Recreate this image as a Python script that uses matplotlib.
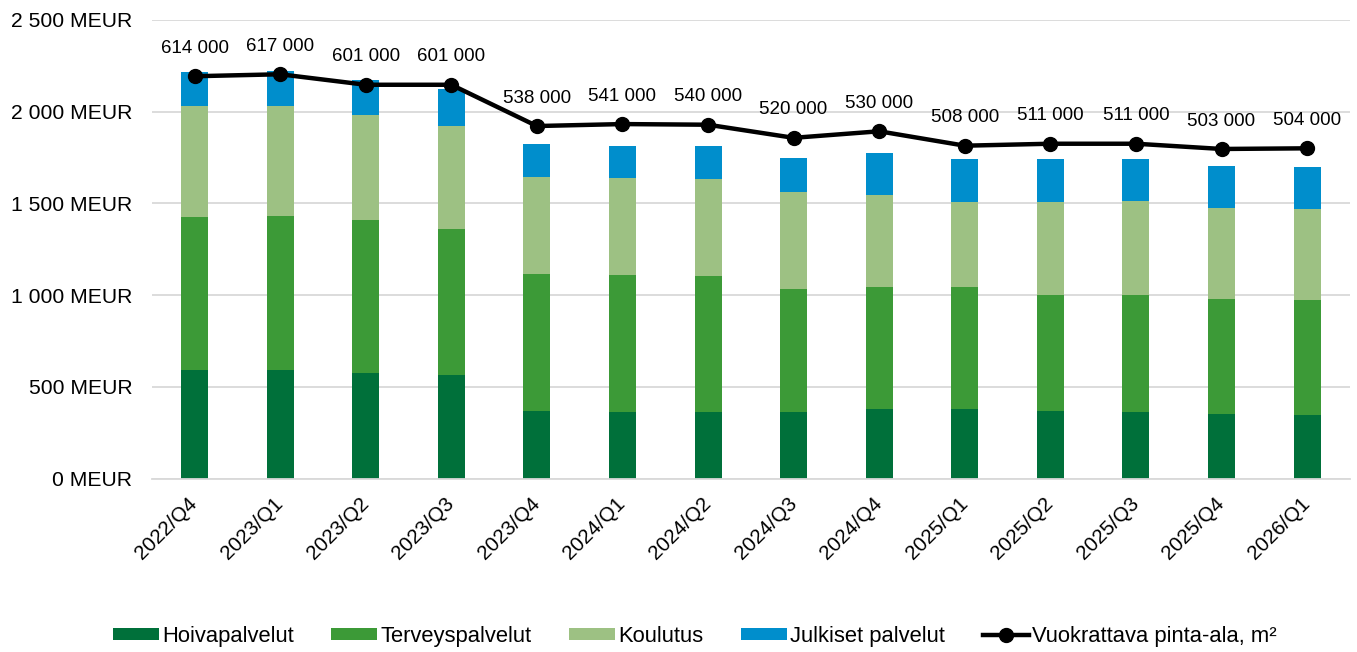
import matplotlib.pyplot as plt
from matplotlib.lines import Line2D
from matplotlib.patches import Patch
import numpy as np

plt.rcParams["font.family"] = ["Liberation Sans", "DejaVu Sans"]

# Quarters on the x-axis
quarters = [
    "2022/Q4", "2023/Q1", "2023/Q2", "2023/Q3", "2023/Q4", "2024/Q1", "2024/Q2",
    "2024/Q3", "2024/Q4", "2025/Q1", "2025/Q2", "2025/Q3", "2025/Q4", "2026/Q1",
]

# Stacked segments, MEUR
hoivapalvelut = [592, 592, 578, 567, 369, 363, 363, 363, 380, 380, 369, 363, 352, 349]
terveyspalvelut = [835, 837, 831, 793, 748, 748, 741, 671, 664, 664, 631, 637, 626, 625]
koulutus = [604, 602, 573, 562, 525, 526, 529, 526, 502, 465, 507, 513, 495, 495]
julkiset_palvelut = [184, 189, 189, 200, 181, 176, 180, 186, 230, 231, 233, 229, 231, 231]

# Leasable area, m2 (secondary scale)
pinta_ala = [614000, 617000, 601000, 601000, 538000, 541000, 540000,
             520000, 530000, 508000, 511000, 511000, 503000, 504000]

COLOURS = {
    "Hoivapalvelut": "#00703a",
    "Terveyspalvelut": "#3c9a37",
    "Koulutus": "#9dc183",
    "Julkiset palvelut": "#008ecc",
}

fig = plt.figure(figsize=(13.57, 6.52), dpi=100)
ax = fig.add_axes([0.1118, 0.266, 0.883, 0.7035])

x = np.arange(len(quarters))
bottom = np.zeros(len(quarters))
for name, vals in [
    ("Hoivapalvelut", hoivapalvelut),
    ("Terveyspalvelut", terveyspalvelut),
    ("Koulutus", koulutus),
    ("Julkiset palvelut", julkiset_palvelut),
]:
    ax.bar(x, vals, bottom=bottom, width=0.315, color=COLOURS[name], zorder=2)
    bottom += np.array(vals)

ax.set_xlim(-0.5, len(quarters) - 0.5)
ax.set_ylim(0, 2500)
ax.set_yticks(np.arange(0, 2501, 500))
ax.set_yticklabels([f"{v:,} MEUR".replace(",", " ") for v in range(0, 2501, 500)], fontsize=15.2)
ax.set_xticks(x)
ax.set_xticklabels(quarters, rotation=45, ha="right", va="center",
                   rotation_mode="anchor", fontsize=14.8)
ax.tick_params(axis="both", length=0)
ax.tick_params(axis="x", pad=16)
ax.tick_params(axis="y", pad=14)
ax.grid(axis="y", color="#d9d9d9", linewidth=1.3, zorder=0)
for s in ["top", "right", "left"]:
    ax.spines[s].set_visible(False)
ax.spines["bottom"].set_color("#d9d9d9")
ax.spines["bottom"].set_linewidth(1.3)

# Secondary axis for the area line (hidden)
ax2 = ax.twinx()
ax2.plot(x, pinta_ala, color="black", linewidth=3.2, marker="o", markersize=10, zorder=3)
ax2.set_ylim(0, 700000)
ax2.axis("off")
for xi, v in zip(x, pinta_ala):
    ax2.annotate(f"{v:,}".replace(",", " "), (xi, v), xytext=(0, 14),
                 textcoords="offset points", ha="center", va="bottom", fontsize=13.5)

legend_handles = [Patch(facecolor=COLOURS[n]) for n in COLOURS]
legend_handles.append(Line2D([0], [0], color="black", linewidth=3.2, marker="o", markersize=10))
fig.legend(legend_handles, list(COLOURS) + ["Vuokrattava pinta-ala, m²"],
           loc="center", bbox_to_anchor=(0.512, 0.024), ncol=5, frameon=False,
           fontsize=15.8, handlelength=2.1, handleheight=0.45, handletextpad=0.15,
           columnspacing=1.7)

plt.savefig("out.png")
